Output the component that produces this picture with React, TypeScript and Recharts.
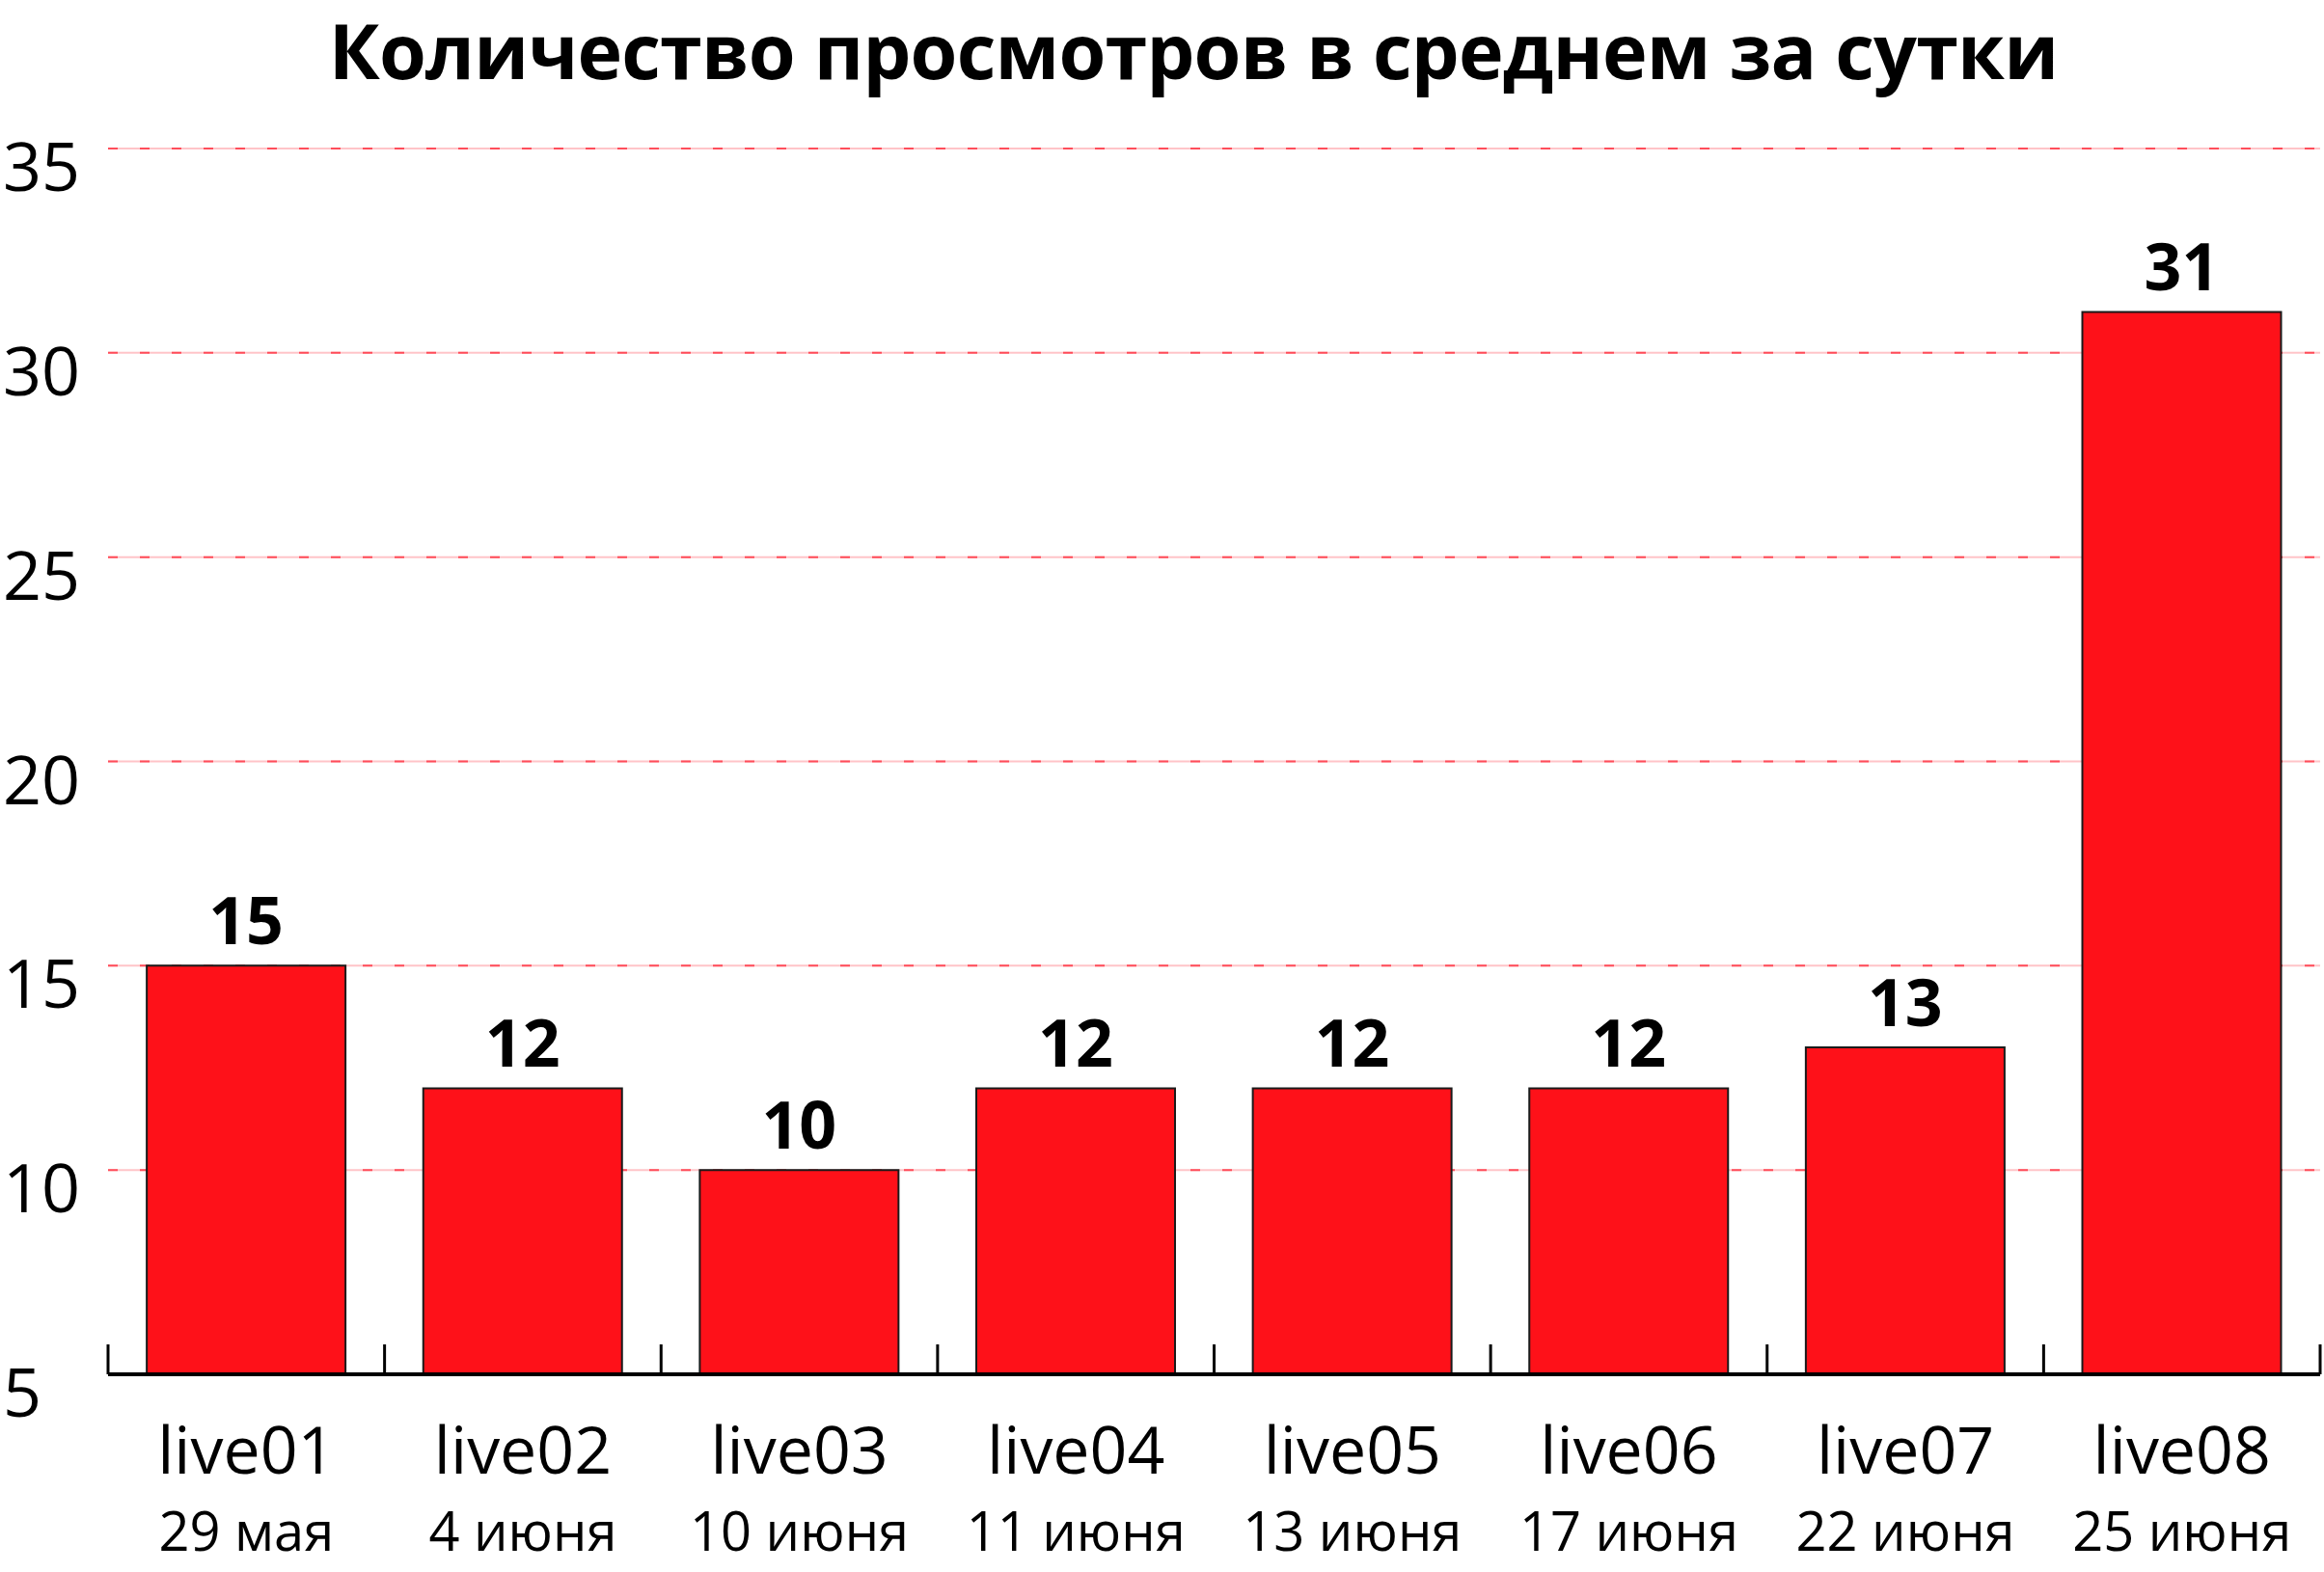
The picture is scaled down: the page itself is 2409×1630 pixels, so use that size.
import React from 'react';
import { BarChart, Bar, XAxis, YAxis, CartesianGrid, LabelList } from 'recharts';

const streams = ['live01', 'live02', 'live03', 'live04', 'live05', 'live06', 'live07', 'live08'];
const dates = ['29 мая', '4 июня', '10 июня', '11 июня', '13 июня', '17 июня', '22 июня', '25 июня'];
const views = [15, 12, 10, 12, 12, 12, 13, 31];
const yTicks = [5, 10, 15, 20, 25, 30, 35];

const data = streams.map((name, i) => ({ name, date: dates[i], views: views[i] }));

const FONT = '"Open Sans", "Noto Sans", sans-serif';

const YTick = (props: any) => {
    const { y, payload } = props;
    return (
        <text x={3} y={y + 17} textAnchor="start" dominantBaseline="central" fontSize={70} fontFamily={FONT} fill="#000">
            {payload.value}
        </text>
    );
};

// category labels plus the small upward ticks on the band edges
const XTick = (props: any) => {
    const { x, y, payload, index, width, visibleTicksCount } = props;
    const band = width / visibleTicksCount;
    const isLast = index === visibleTicksCount - 1;
    return (
        <g>
            <line x1={x - band / 2} x2={x - band / 2} y1={y} y2={y - 31} stroke="#000" strokeWidth={3} />
            {isLast && <line x1={x + band / 2} x2={x + band / 2} y1={y} y2={y - 31} stroke="#000" strokeWidth={3} />}
            <text x={x} y={y + 103} textAnchor="middle" fontSize={68} fontFamily={FONT} fill="#000">
                {payload.value}
            </text>
            <text x={x} y={y + 183} textAnchor="middle" fontSize={56} fontFamily={FONT} fill="#000">
                {dates[index]}
            </text>
        </g>
    );
};

const App: React.FC = () => {
    return (
        <div style={{ position: 'absolute', left: 0, top: 0, width: 2409, height: 1630, background: '#fff' }}>
            <div
                style={{
                    position: 'absolute',
                    left: 0,
                    top: 12,
                    width: 2474,
                    textAlign: 'center',
                    fontFamily: FONT,
                    fontWeight: 700,
                    fontSize: 79,
                    lineHeight: 1,
                    color: '#000',
                    letterSpacing: -0.8,
                }}
            >
                Количество просмотров в среднем за сутки
            </div>
            <BarChart
                width={2409}
                height={1630}
                data={data}
                margin={{ top: 154, right: 4, left: 0, bottom: 0 }}
                barCategoryGap="14%"
            >
                <CartesianGrid vertical={false} stroke="#ffc4c8" strokeWidth={2} />
                <CartesianGrid vertical={false} stroke="#ff4d5a" strokeWidth={2} strokeDasharray="10 23" />
                <XAxis
                    dataKey="name"
                    height={205}
                    tickLine={false}
                    tickSize={0}
                    tickMargin={0}
                    axisLine={{ stroke: '#000', strokeWidth: 4 }}
                    tick={<XTick />}
                    interval={0}
                />
                <YAxis
                    width={112}
                    domain={[5, 35]}
                    ticks={yTicks}
                    allowDataOverflow
                    axisLine={false}
                    tickLine={false}
                    tick={<YTick />}
                />
                <Bar dataKey="views" fill="#fe1119" stroke="#1a1a1a" strokeWidth={2} isAnimationActive={false}>
                    <LabelList
                        dataKey="views"
                        position="top"
                        offset={22}
                        fontSize={68}
                        fontWeight={700}
                        fontFamily={FONT}
                        fill="#000"
                    />
                </Bar>
            </BarChart>
        </div>
    );
};

export default App;
